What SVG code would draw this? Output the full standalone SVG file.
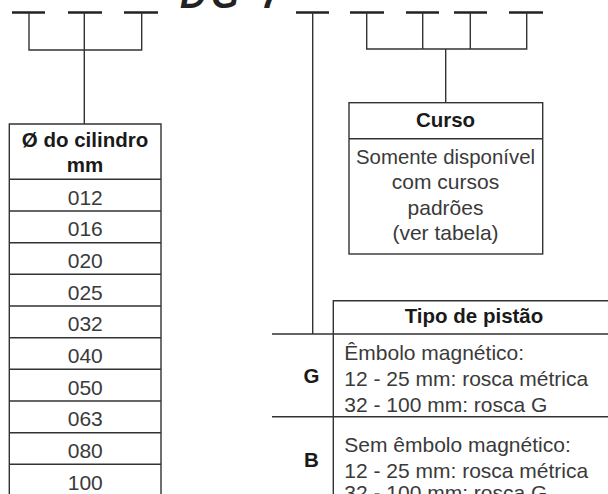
<svg xmlns="http://www.w3.org/2000/svg" width="608" height="494" viewBox="0 0 608 494">
<style>
.ln{stroke:#333;stroke-width:1.4;fill:none}
.bar{stroke:#222;stroke-width:2.6}
.box{stroke:#333;stroke-width:1.4;fill:#fff}
.t{font-family:"Liberation Sans",Arial,sans-serif;font-size:21px;fill:#3a3a3a}
.b{font-family:"Liberation Sans",Arial,sans-serif;font-size:20.5px;font-weight:bold;fill:#1a1a1a}
.c{text-anchor:middle}
.code{font-family:"Liberation Sans",Arial,sans-serif;font-size:36px;font-weight:bold;font-style:italic;fill:#222}
</style>
<rect width="608" height="494" fill="#fff"/>
<g id="code">
<text class="code" x="180 211 261" y="8">DG7</text>
<line class="bar" x1="12" y1="12.5" x2="45" y2="12.5"/>
<line class="bar" x1="68" y1="12.5" x2="102" y2="12.5"/>
<line class="bar" x1="124" y1="12.5" x2="158" y2="12.5"/>
<line class="bar" x1="296" y1="12.5" x2="329" y2="12.5"/>
<line class="bar" x1="350" y1="12.5" x2="384" y2="12.5"/>
<line class="bar" x1="406" y1="12.5" x2="439" y2="12.5"/>
<line class="bar" x1="454" y1="12.5" x2="487" y2="12.5"/>
<line class="bar" x1="509" y1="12.5" x2="543" y2="12.5"/>
</g>
<g id="connectors">
<path class="ln" d="M29,12.5 V50 H141.7 V12.5 M84.3,12.5 V124"/>
<path class="ln" d="M312.7,12.5 V334"/>
<path class="ln" d="M366.7,12.5 V49 H526.7 V12.5 M422.7,12.5 V49 M470.3,12.5 V49 M445.7,49 V102.7"/>
</g>
<g id="cilindro">
<path class="box" d="M9.3,500 V124 H161 V500"/>
<path class="ln" d="M9.3,179.3 H161 M9.3,211 H161 M9.3,242.7 H161 M9.3,274.3 H161 M9.3,306 H161 M9.3,337.7 H161 M9.3,369.3 H161 M9.3,401 H161 M9.3,432.7 H161 M9.3,464.3 H161"/>
<text class="b c" x="85" y="147">Ø do cilindro</text>
<text class="b c" x="85" y="171.7">mm</text>
<text class="t c" x="85.3" y="204.5">012</text>
<text class="t c" x="85.3" y="236.2">016</text>
<text class="t c" x="85.3" y="267.9">020</text>
<text class="t c" x="85.3" y="299.6">025</text>
<text class="t c" x="85.3" y="331.3">032</text>
<text class="t c" x="85.3" y="363">040</text>
<text class="t c" x="85.3" y="394.7">050</text>
<text class="t c" x="85.3" y="426.4">063</text>
<text class="t c" x="85.3" y="458.1">080</text>
<text class="t c" x="85.3" y="489.8">100</text>
</g>
<g id="curso">
<rect class="box" x="349" y="102.7" width="193.7" height="151.3"/>
<line class="ln" x1="349" y1="138.7" x2="542.7" y2="138.7"/>
<text class="b c" x="445.5" y="126.7">Curso</text>
<text class="t c" x="445.5" y="164" textLength="179" lengthAdjust="spacingAndGlyphs">Somente disponível</text>
<text class="t c" x="445.5" y="189.3">com cursos</text>
<text class="t c" x="445.5" y="214.6">padrões</text>
<text class="t c" x="445.5" y="239.9">(ver tabela)</text>
</g>
<g id="pistao">
<path class="ln" d="M333.3,500 V300.7 H610 M272,334 H610 M272,416.7 H610"/>
<text class="b c" x="474" y="323.3">Tipo de pistão</text>
<text class="b c" x="311.5" y="383.3">G</text>
<text class="t" x="344.3" y="360">Êmbolo magnético:</text>
<text class="t" x="344.3" y="386">12 - 25 mm: rosca métrica</text>
<text class="t" x="344.3" y="411.7">32 - 100 mm: rosca G</text>
<text class="b c" x="311.5" y="466.7">B</text>
<text class="t" x="344.3" y="451.7">Sem êmbolo magnético:</text>
<text class="t" x="344.3" y="478.3">12 - 25 mm: rosca métrica</text>
<text class="t" x="344.3" y="500">32 - 100 mm: rosca G</text>
</g>
</svg>
